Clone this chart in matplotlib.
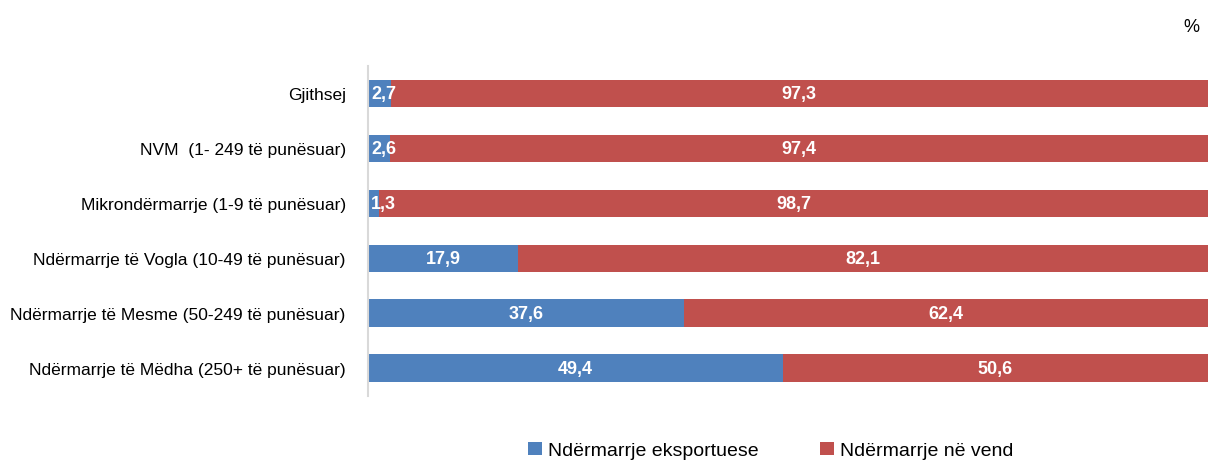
import matplotlib.pyplot as plt

# Data
categories = ["Gjithsej", "NVM  (1- 249 të punësuar)", "Mikrondërmarrje (1-9 të punësuar)",
              "Ndërmarrje të Vogla (10-49 të punësuar)", "Ndërmarrje të Mesme (50-249 të punësuar)",
              "Ndërmarrje të Mëdha (250+ të punësuar)"]
export_share = [2.7, 2.6, 1.3, 17.9, 37.6, 49.4]
domestic_share = [97.3, 97.4, 98.7, 82.1, 62.4, 50.6]
series_names = ["Ndërmarrje eksportuese", "Ndërmarrje në vend"]

plt.rcParams['font.family'] = ['Liberation Sans', 'DejaVu Sans']

fig = plt.figure(figsize=(12.08, 4.64), dpi=100)
ax = fig.add_axes([0.3046, 0.145, 0.6954, 0.711])

y = list(range(len(categories)))[::-1]
b1 = ax.barh(y, export_share, height=0.5, color="#4F81BD", label=series_names[0])
b2 = ax.barh(y, domestic_share, left=export_share, height=0.5, color="#C0504D", label=series_names[1])

fmt = lambda v: f"{v:.1f}".replace(".", ",")
# export labels: small ones are pushed to the start of the bar
for yi, v in zip(y, export_share):
    if v < 5:
        ax.text(0.35, yi, fmt(v), ha="left", va="center", color="white",
                fontweight="bold", fontsize=13)
    else:
        ax.text(v / 2, yi, fmt(v), ha="center", va="center", color="white",
                fontweight="bold", fontsize=13)
for yi, e, d in zip(y, export_share, domestic_share):
    ax.text(e + d / 2, yi, fmt(d), ha="center", va="center", color="white",
            fontweight="bold", fontsize=13)

ax.set_xlim(0, 100)
ax.set_ylim(-0.5, len(categories) - 0.5)
ax.set_yticks(y)
ax.set_yticklabels(categories, fontsize=12.5)
ax.set_xticks([])
ax.tick_params(axis="y", length=0, pad=16)
for s in ["top", "right", "bottom"]:
    ax.spines[s].set_visible(False)
ax.spines["left"].set_color("#D9D9D9")
ax.spines["left"].set_linewidth(1.5)

fig.text(0.986, 0.94, "%", fontsize=13, ha="center", va="center")

fig.legend(loc="center", bbox_to_anchor=(0.638, 0.027), ncol=2, frameon=False,
           fontsize=14, handlelength=0.7, handleheight=0.7, handletextpad=0.3,
           columnspacing=3.2)

fig.savefig("out.png", dpi=100)
